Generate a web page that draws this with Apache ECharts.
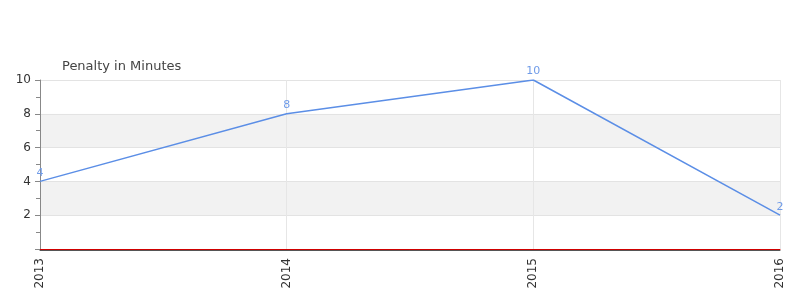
<!DOCTYPE html>
<html><head><meta charset="utf-8">
<script src="https://cdn.jsdelivr.net/npm/echarts@6/dist/echarts.min.js"></script>
<style>html,body{margin:0;padding:0;background:#fff}#c{width:800px;height:300px}</style>
</head><body><div id="c"></div>
<script>
const categories = ['2013', '2014', '2015', '2016'];
const penalty = [4, 8, 10, 2];
const titleText = 'Penalty in Minutes';

const chart = echarts.init(document.getElementById('c'), null, {renderer: 'canvas'});
chart.setOption({
  animation: false,
  title: {text: titleText, left: 57, top: 55, textStyle: {fontSize: 13, fontWeight: 'normal', color: '#444', fontFamily: 'DejaVu Sans'}},
  grid: {left: 40, right: 20, top: 80, bottom: 51, containLabel: false},
  xAxis: [{
    type: 'category', data: categories, boundaryGap: false,
    axisLine: {show: true, lineStyle: {color: '#d00000', width: 1}},
    axisTick: {show: false},
    axisLabel: {rotate: 90, color: '#333', fontSize: 12, fontFamily: 'DejaVu Sans', margin: 9},
    splitLine: {show: true, lineStyle: {color: '#e6e6e6'}}
  }, {
    type: 'category', data: categories, boundaryGap: false, position: 'bottom', offset: 1,
    axisLine: {show: true, lineStyle: {color: '#555', width: 1}},
    axisTick: {show: false}, axisLabel: {show: false}, splitLine: {show: false}
  }],
  yAxis: {
    type: 'value', min: 0, max: 10, interval: 2,
    axisLine: {show: true, lineStyle: {color: '#888'}},
    axisTick: {show: true, length: 5, lineStyle: {color: '#888'}},
    minorTick: {show: true, splitNumber: 2, length: 4, lineStyle: {color: '#888'}},
    axisLabel: {color: '#333', fontSize: 12, fontFamily: 'DejaVu Sans', margin: 9,
      formatter: v => v === 0 ? '' : v},
    splitLine: {show: true, lineStyle: {color: '#e3e3e3'}},
    splitArea: {show: true, areaStyle: {color: ['#ffffff', '#f2f2f2']}}
  },
  series: [{
    type: 'line', data: penalty, symbol: 'circle', symbolSize: 0, showSymbol: true, xAxisIndex: 0,
    itemStyle: {color: '#5b8ee6'},
    lineStyle: {color: '#5b8ee6', width: 1.5},
    label: {show: true, position: 'top', color: '#6f9be8', fontSize: 11, fontFamily: 'DejaVu Sans', distance: 3}
  }]
});
</script></body></html>
